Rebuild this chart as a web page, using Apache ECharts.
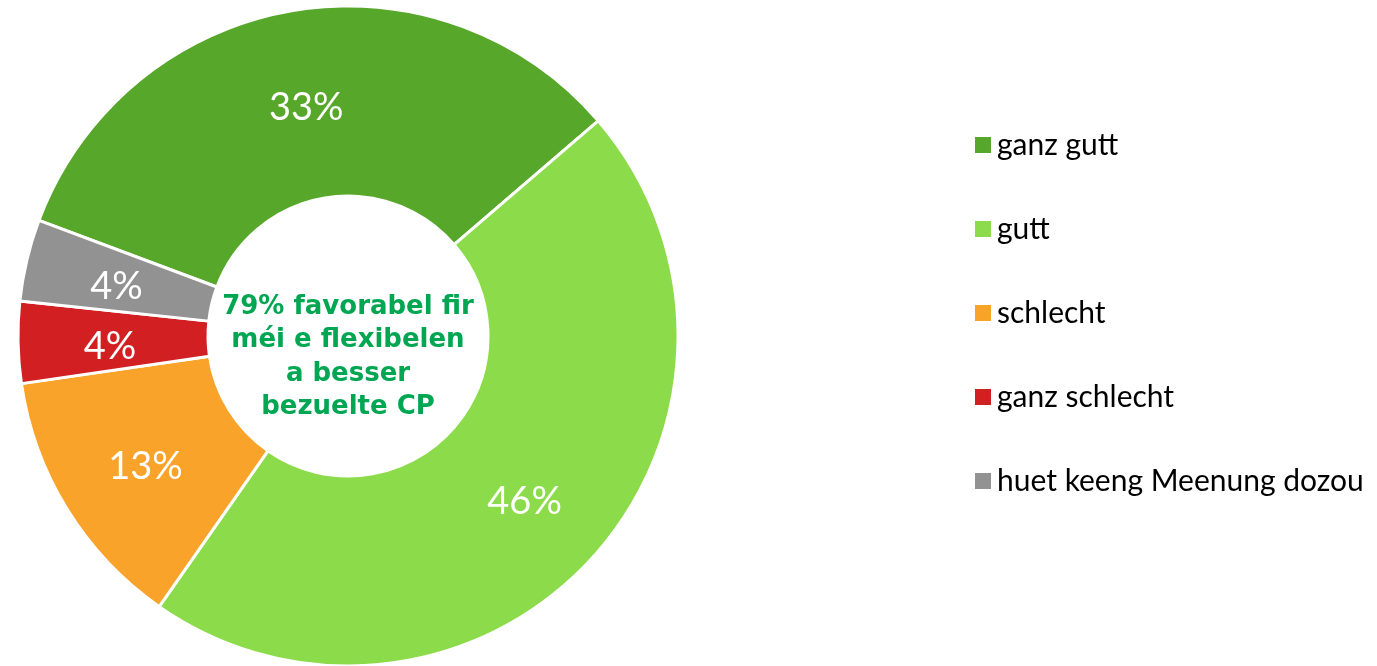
<!DOCTYPE html>
<html>
<head>
<meta charset="utf-8">
<script src="https://cdn.jsdelivr.net/npm/echarts@6/dist/echarts.min.js"></script>
<style>
html,body{margin:0;padding:0;background:#fff;}
#c{width:1377px;height:666px;}
</style>
</head>
<body>
<div id="c"></div>
<script>
var categories = ['ganz gutt', 'gutt', 'schlecht', 'ganz schlecht', 'huet keeng Meenung dozou'];
var values = [33, 46, 13, 4, 4];
var colors = ['#57A72A', '#8CDB4A', '#F9A32A', '#D21F22', '#929292'];
var centerText = '79% favorabel fir\nméi e flexibelen\na besser\nbezuelte CP';

var chart = echarts.init(document.getElementById('c'), null, {renderer: 'canvas'});
var data = categories.map(function (c, i) {
  return {name: c, value: values[i], itemStyle: {color: colors[i]}};
});
chart.setOption({
  animation: false,
  backgroundColor: '#ffffff',
  legend: {
    orient: 'vertical',
    left: 973,
    top: 127,
    padding: 0,
    itemWidth: 18,
    itemHeight: 18,
    itemGap: 48,
    icon: 'rect',
    textStyle: {fontFamily: 'Lato', fontSize: 30, lineHeight: 30, color: '#000', padding: [6, 0, 0, 0]},
    data: categories
  },
  graphic: [{
    type: 'text',
    z: 100,
    zlevel: 1,
    x: 348,
    y: 357,
    style: {
      text: centerText,
      textAlign: 'center',
      textVerticalAlign: 'middle',
      fill: '#00A651',
      fontFamily: 'DejaVu Sans',
      fontWeight: 'bold',
      fontSize: 26,
      lineHeight: 33.5
    }
  }],
  series: [{
    type: 'pie',
    center: [348, 336],
    radius: [140, 330],
    startAngle: 159.5,
    clockwise: true,
    avoidLabelOverlap: false,
    itemStyle: {borderColor: '#ffffff', borderWidth: 3},
    label: {
      show: true,
      position: 'inside',
      formatter: '{c}%',
      color: '#ffffff',
      fontFamily: 'Lato',
      fontSize: 38,
      offset: [0, 6],
      textBorderWidth: 0
    },
    labelLine: {show: false},
    emphasis: {disabled: true},
    data: data
  }]
});
</script>
</body>
</html>
